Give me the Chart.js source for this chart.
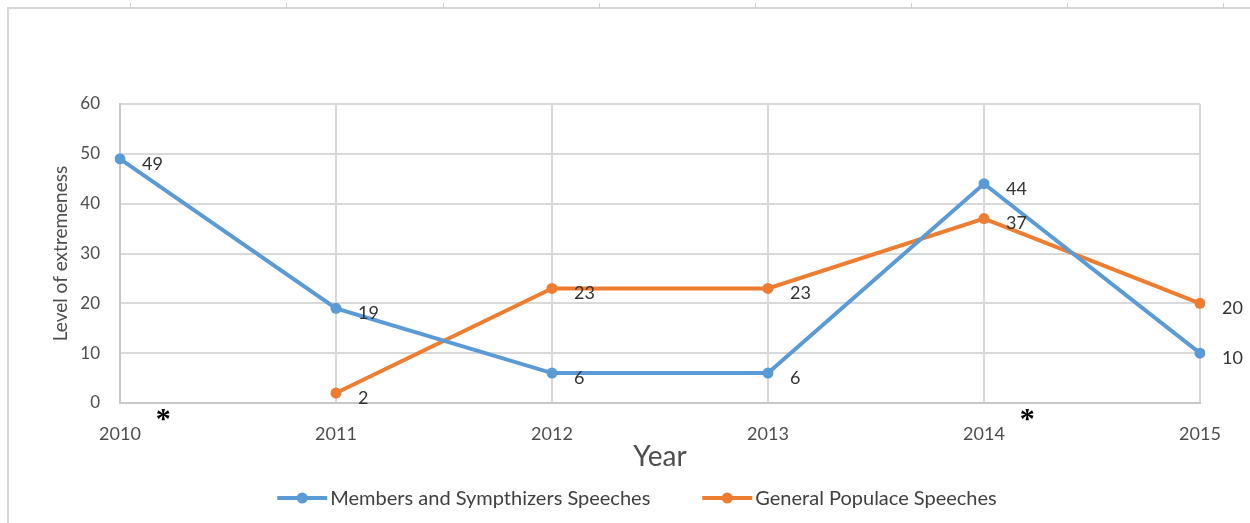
<!DOCTYPE html>
<html lang="en">
<head>
<meta charset="UTF-8">
<title>Level of extremeness by year</title>
<script src="https://cdn.jsdelivr.net/npm/chart.js@4"></script>
<style>
  html, body { margin: 0; padding: 0; background: #fff; }
  #wrap { position: relative; width: 1250px; height: 523px; overflow: hidden; }
  .rule-top { position: absolute; left: 7px; right: 0; top: 7px; height: 2px; background: #d6d6d6; }
  .rule-left { position: absolute; left: 7px; top: 7px; bottom: 0; width: 2px; background: #d6d6d6; }
  .col { position: absolute; top: 3px; width: 1px; height: 5px; background: #cfcfcf; }
  canvas { position: absolute; left: 0; top: 0; }
</style>
</head>
<body>
<div id="wrap">
  <div class="rule-top"></div>
  <div class="rule-left"></div>
  <canvas id="grafico" width="1250" height="523"></canvas>
</div>
<script>
  const years = ['2010', '2011', '2012', '2013', '2014', '2015'];
  const members = [49, 19, 6, 6, 44, 10];
  const populace = [null, 2, 23, 23, 37, 20];
  const yTicks = [0, 10, 20, 30, 40, 50, 60];
  const seriesNames = ['Members and Sympthizers Speeches', 'General Populace Speeches'];
  const starredYears = ['2010', '2014'];

  const BLUE = '#5b9bd5';
  const ORANGE = '#ed7d31';
  const FONT = 'Lato, "Open Sans", sans-serif';

  // little marks on the table border above the chart
  [130, 286, 443, 599, 755, 911, 1067, 1223].forEach(x => {
    const d = document.createElement('div');
    d.className = 'col';
    d.style.left = x + 'px';
    document.getElementById('wrap').appendChild(d);
  });

  // data labels, asterisks and the Excel-style legend
  const extras = {
    id: 'extras',
    afterDraw(chart) {
      const { ctx, chartArea } = chart;
      ctx.save();

      // labels next to each point
      ctx.font = '18px ' + FONT;
      ctx.fillStyle = '#333333';
      ctx.textAlign = 'left';
      ctx.textBaseline = 'middle';
      chart.data.datasets.forEach((ds, i) => {
        chart.getDatasetMeta(i).data.forEach((pt, j) => {
          if (ds.data[j] == null) return;
          ctx.fillText(String(ds.data[j]), pt.x + 22, pt.y + 5);
        });
      });

      // asterisks after starred years
      const xs = chart.scales.x;
      ctx.font = 'bold 30px "Liberation Serif", serif';
      ctx.fillStyle = '#000';
      ctx.textAlign = 'center';
      ctx.textBaseline = 'alphabetic';
      starredYears.forEach(y => {
        const px = xs.getPixelForValue(years.indexOf(y) + 0.2);
        ctx.fillText('*', px, chartArea.bottom + 25);
      });

      // legend
      ctx.font = '20px ' + FONT;
      ctx.textBaseline = 'middle';
      ctx.textAlign = 'left';
      const lineLen = 50, gap = 3, itemGap = 52;
      const items = chart.data.datasets.map(ds => ({
        text: ds.label, color: ds.borderColor, w: lineLen + gap + ctx.measureText(ds.label).width
      }));
      const total = items.reduce((s, it) => s + it.w, 0) + itemGap * (items.length - 1);
      let x = chart.width / 2 - total / 2 + 12;
      const y = 498;
      items.forEach(it => {
        ctx.strokeStyle = it.color;
        ctx.lineWidth = 4;
        ctx.beginPath();
        ctx.moveTo(x, y);
        ctx.lineTo(x + lineLen, y);
        ctx.stroke();
        ctx.fillStyle = it.color;
        ctx.beginPath();
        ctx.arc(x + lineLen / 2, y, 5.5, 0, Math.PI * 2);
        ctx.fill();
        ctx.fillStyle = '#404040';
        ctx.fillText(it.text, x + lineLen + gap, y + 1);
        x += it.w + itemGap;
      });

      ctx.restore();
    }
  };

  new Chart(document.getElementById('grafico').getContext('2d'), {
    type: 'line',
    data: {
      labels: years,
      datasets: [
        {
          label: seriesNames[0],
          data: members,
          borderColor: BLUE,
          backgroundColor: BLUE,
          borderWidth: 4,
          pointRadius: 5.5,
          pointBorderWidth: 0,
          tension: 0
        },
        {
          label: seriesNames[1],
          data: populace,
          borderColor: ORANGE,
          backgroundColor: ORANGE,
          borderWidth: 4,
          pointRadius: 5.5,
          pointBorderWidth: 0,
          tension: 0
        }
      ]
    },
    options: {
      responsive: false,
      animation: false,
      layout: { padding: { top: 104, right: 50, left: 0, bottom: 0 } },
      plugins: {
        legend: { display: false },
        tooltip: { enabled: false }
      },
      scales: {
        x: {
          offset: false,
          grid: { color: '#d9d9d9', lineWidth: 2, drawTicks: false },
          border: { color: '#c8c8c8', width: 2 },
          ticks: { color: '#4d4d4d', font: { family: FONT, size: 18 }, padding: 20, maxRotation: 0 },
          title: {
            display: true, text: 'Year', color: '#4d4d4d',
            font: { family: FONT, size: 28 }, padding: { top: 0, bottom: 49 }
          },
          afterFit(scale) { scale.height = 120; }
        },
        y: {
          min: 0,
          max: 60,
          afterBuildTicks(scale) { scale.ticks = yTicks.map(v => ({ value: v })); },
          grid: { color: '#d9d9d9', lineWidth: 2, drawTicks: false },
          border: { color: '#c8c8c8', width: 2 },
          ticks: { color: '#4d4d4d', font: { family: FONT, size: 17 }, padding: 20 },
          title: {
            display: true, text: 'Level of extremeness', color: '#4d4d4d',
            font: { family: FONT, size: 19 }, padding: { top: 49, bottom: 0 }
          },
          afterFit(scale) { scale.width = 120; }
        }
      }
    },
    plugins: [extras]
  });
</script>
</body>
</html>
